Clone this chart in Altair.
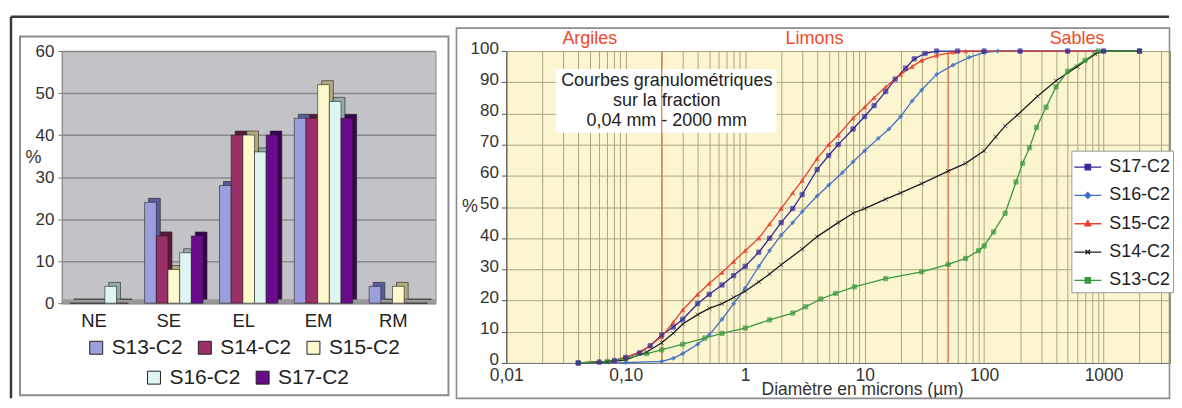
import altair as alt
import pandas as pd

FONT = "Liberation Sans"

# ---------------- Left panel: bar chart data ----------------
categories = ["NE", "SE", "EL", "EM", "RM"]
bar_series = ["S13-C2", "S14-C2", "S15-C2", "S16-C2", "S17-C2"]
s13_bars = [0, 24, 28, 44, 4]
s14_bars = [0, 16, 40, 44, 0]
s15_bars = [0, 8, 40, 52, 4]
s16_bars = [4, 12, 36, 48, 0]
s17_bars = [0, 16, 40, 44, 0]
bar_colors = ["#9c9fde", "#9b2f68", "#fdf9cd", "#dff5f3", "#6a0b8c"]
bar_side_colors = ["#5a5c96", "#5a1a3c", "#b0ab7c", "#93aba9", "#3a0550"]

# ---------------- Right panel: grain-size curves ----------------
s17_d = [0.04, 0.06, 0.08, 0.1, 0.13, 0.16, 0.2, 0.25, 0.3, 0.4, 0.5, 0.64, 0.8, 1.0, 1.3, 1.6, 2.0, 2.5, 3.0, 4.0,
         5.0, 6.0, 8.0, 10, 12, 15, 18, 22, 26, 32, 40, 60, 100, 200, 500, 1000, 2000]
s17_v = [0, 0.3, 0.8, 1.8, 3.2, 5.5, 9, 11.5, 14, 19, 22, 25, 28, 31, 35.5, 40, 45, 49.5, 54, 62,
         66.5, 70, 75, 79, 82.5, 87, 91, 94.5, 97.5, 99.2, 100, 100, 100, 100, 100, 100, 100]

s16_d = [0.04, 0.1, 0.2, 0.25, 0.3, 0.4, 0.5, 0.64, 0.8, 1.0, 1.3, 1.6, 2.0, 2.5, 3.0, 4.0, 5.0, 6.5, 8.0, 10,
         13, 16, 20, 25, 30, 40, 55, 75, 100, 130, 200, 500, 1000, 2000]
s16_v = [0, 0.1, 0.5, 1.5, 3, 6, 9, 14, 19, 24, 31, 36, 41, 45, 48.5, 53.5, 57, 61, 64.5, 68,
         72, 75, 79, 84, 87.5, 92.5, 95.5, 98, 99.5, 100, 100, 100, 100, 100]

s15_d = [0.04, 0.06, 0.08, 0.1, 0.13, 0.16, 0.2, 0.25, 0.3, 0.4, 0.5, 0.64, 0.8, 1.0, 1.3, 1.6, 2.0, 2.5, 3.0, 4.0,
         5.0, 6.0, 8.0, 10, 12, 15, 20, 25, 30, 40, 55, 70, 100, 200, 500, 1000, 2000]
s15_v = [0, 0.3, 0.8, 1.8, 3.5, 5.5, 8.5, 13, 17, 22, 25.5, 29, 32.5, 36, 40, 44.5, 49.5, 54.5, 58.5, 65.5,
         70, 73, 78.5, 82, 85, 88.5, 92.5, 95, 97, 98.6, 99.6, 100, 100, 100, 100, 100, 100]

s14_d = [0.04, 0.07, 0.1, 0.15, 0.2, 0.25, 0.3, 0.4, 0.5, 0.64, 0.8, 1.0, 1.3, 1.6, 2.0, 3.0, 4.0, 6.0, 8.0, 10,
         15, 20, 30, 50, 70, 100, 125, 150, 190, 280, 400, 600, 850, 1000, 2000]
s14_v = [0, 0.3, 1, 3.5, 6.5, 9.5, 12.5, 15.5, 17.5, 19, 21, 23, 26, 28.5, 31.5, 36.5, 40.5, 45, 48, 49.5,
         52.5, 54.5, 57.5, 61.5, 64, 68, 72.5, 76, 79.5, 85.5, 90.5, 95, 99, 100, 100]

s13_d = [0.04, 0.07, 0.1, 0.15, 0.2, 0.3, 0.46, 0.64, 1.0, 1.6, 2.5, 3.2, 4.3, 5.7, 8.2, 15, 30, 50, 70, 90,
         100, 120, 150, 185, 210, 240, 275, 330, 400, 500, 700, 900, 2000]
s13_v = [0, 0.5, 1.5, 3, 4.2, 6, 8, 9.5, 11.2, 13.8, 16, 18, 20.5, 22.3, 24.4, 27, 29.2, 31.6, 33.5, 36,
         37.5, 42, 48, 58, 64, 69, 75.5, 82, 88.5, 93.5, 97, 100, 100]

curve_order = ["S17-C2", "S16-C2", "S15-C2", "S14-C2", "S13-C2"]
curve_colors = ["#33299a", "#3f6fc6", "#e8402e", "#1e1e1e", "#3a9a3e"]
point_shapes = ["square", "diamond", "triangle-up", "M-1,-1L1,1M-1,1L1,-1", "square"]
legend_paths = [
    "M-1,0H1M-0.2,-0.2H0.2V0.2H-0.2Z",
    "M-1,0H1M0,-0.22L0.22,0L0,0.22L-0.22,0Z",
    "M-1,0H1M0,-0.24L0.22,0.16L-0.22,0.16Z",
    "M-1,0H1M-0.17,-0.17L0.17,0.17M-0.17,0.17L0.17,-0.17",
    "M-1,0H1M-0.2,-0.2H0.2V0.2H-0.2Z",
]

boundaries = [0.2, 50]
zone_names = ["Argiles", "Limons", "Sables"]
zone_pos = [0.05, 3.8, 600]
x_tick_labels = {0.01: "0,01", 0.1: "0,10", 1: "1", 10: "10", 100: "100", 1000: "1000"}

# ---------------- build tables ----------------
bars_rows = []
for s, vals in zip(bar_series, [s13_bars, s14_bars, s15_bars, s16_bars, s17_bars]):
    for c, v in zip(categories, vals):
        bars_rows.append({"cat": c, "series": s, "value": v})
bars_df = pd.DataFrame(bars_rows)

curve_rows = []
for s, ds, vs in [("S17-C2", s17_d, s17_v), ("S16-C2", s16_d, s16_v), ("S15-C2", s15_d, s15_v),
                  ("S14-C2", s14_d, s14_v), ("S13-C2", s13_d, s13_v)]:
    for d, v in zip(ds, vs):
        curve_rows.append({"series": s, "d": d, "v": v})
curve_df = pd.DataFrame(curve_rows)
draw_rank = {"S13-C2": 0, "S14-C2": 1, "S15-C2": 2, "S16-C2": 3, "S17-C2": 4}
curve_df["rank"] = curve_df["series"].map(draw_rank)

one = alt.Data(values=[{"k": 1}])

# ================= LEFT PANEL =================
W1, H1 = 375, 253
P_IN, P_OUT = 0.22, 0.107
step = W1 / (len(categories) - P_IN + 2 * P_OUT)
bw = step * (1 - P_IN)
DEPTH = 4

x_cat = alt.X(
    "cat:N", sort=categories,
    scale=alt.Scale(domain=categories, paddingInner=P_IN, paddingOuter=P_OUT),
    axis=alt.Axis(title=None, labelFontSize=18.5, labelColor="#222", labelPadding=8, ticks=False,
                  domain=False, labelAngle=0, labelOffset=-5, grid=False, labelFont=FONT),
)
x_off_front = alt.XOffset("series:N", sort=bar_series, scale=alt.Scale(domain=bar_series, range=[0, bw]))
x_off_side = alt.XOffset("series:N", sort=bar_series,
                         scale=alt.Scale(domain=bar_series, range=[DEPTH, bw + DEPTH]))
y_val = alt.Y(
    "value:Q", scale=alt.Scale(domain=[0, 60], nice=False),
    axis=alt.Axis(values=[0, 10, 20, 30, 40, 50, 60], title="%", titleAngle=0, titleX=-29, titleY=107,
                  titleAlign="center", titleBaseline="middle", titleFontSize=18, titleFontWeight="normal",
                  titleColor="#333", titleFont=FONT, labelFontSize=17, labelColor="#333", labelPadding=4,
                  tickSize=4, tickColor="#777", domainColor="#888", gridColor="#8a8a8a", gridWidth=1.5,
                  labelFont=FONT),
)

# page frame (kept inside the 1182x408 window so the page never scrolls)
frame_top = alt.Chart(one).mark_rule(color="#3a3a3a", strokeWidth=2.5).encode(
    x=alt.value(-51), x2=alt.value(1111), y=alt.value(-34.5))
frame_left = alt.Chart(one).mark_rule(color="#3a3a3a", strokeWidth=2.5).encode(
    x=alt.value(-51), y=alt.value(-34.5), y2=alt.value(348.5))
box_left = alt.Chart(one).mark_rect(fill="white", fillOpacity=0, stroke="#8c8c8c", strokeWidth=2).encode(
    x=alt.value(-42), x2=alt.value(388), y=alt.value(-14.5), y2=alt.value(345.5))
floor = alt.Chart(one).mark_rect(color="#9a9a9a").encode(
    x=alt.value(0), x2=alt.value(W1), y=alt.value(H1 - 4), y2=alt.value(H1))

side_bars = alt.Chart(bars_df).mark_bar(yOffset=-DEPTH, stroke="#222", strokeWidth=0.6).encode(
    x=x_cat, xOffset=x_off_side, y=y_val,
    color=alt.Color("series:N", scale=alt.Scale(domain=bar_series, range=bar_side_colors), legend=None),
)

leg_common = dict(orient="none", direction="horizontal", title=None, symbolType="square", symbolSize=169,
                  symbolStrokeColor="#222", symbolStrokeWidth=1, labelFontSize=21, labelColor="#222",
                  labelOffset=5, columnPadding=11, padding=0, labelFont=FONT)

front_a = alt.Chart(bars_df).transform_filter(
    alt.FieldOneOfPredicate(field="series", oneOf=bar_series[:3])
).mark_bar(stroke="#222", strokeWidth=0.6).encode(
    x=x_cat, xOffset=x_off_front, y=y_val,
    color=alt.Color("series:N", scale=alt.Scale(domain=bar_series[:3], range=bar_colors[:3]),
                    legend=alt.Legend(legendX=24, legendY=287, **leg_common)),
)
front_b = alt.Chart(bars_df).transform_filter(
    alt.FieldOneOfPredicate(field="series", oneOf=bar_series[3:])
).mark_bar(stroke="#222", strokeWidth=0.6).encode(
    x=x_cat, xOffset=x_off_front, y=y_val,
    color=alt.Color("series:N", scale=alt.Scale(domain=bar_series[3:], range=bar_colors[3:]),
                    legend=alt.Legend(legendX=82, legendY=317, **leg_common)),
)

left = alt.layer(frame_top, frame_left, box_left, floor, side_bars, front_a, front_b).resolve_scale(
    color="independent", xOffset="independent"
).properties(width=W1, height=H1, view=alt.ViewBackground(fill="#c3c3c7", stroke="#8a8a8a"))

# ================= RIGHT PANEL =================
W2, H2 = 666, 313
X_MAX = 3600

grid_vals = []
for k in range(-2, 4):
    for m in range(1, 10):
        val = round(m * 10.0 ** k, 6)
        if val <= X_MAX:
            grid_vals.append(val)

label_expr = "".join(
    [f"datum.value == {k} ? '{v}' : " for k, v in x_tick_labels.items()]) + "''"

GRID = "#aba483"

def make_x(field):
    return alt.X(
        f"{field}:Q",
        scale=alt.Scale(type="log", domain=[0.01, X_MAX], nice=False),
        axis=alt.Axis(values=grid_vals, labelExpr=label_expr, labelOverlap=False, labelFlush=False,
                      labelFontSize=17.5, labelColor="#333", labelPadding=4, ticks=False, domainColor="#777",
                      gridColor=GRID, gridWidth=1, title="Diamètre en microns (µm)", titleFontSize=17.5,
                      titleFontWeight="normal", titleColor="#333", titleX=357, titleY=36,
                      titleAlign="center", titleBaseline="bottom", labelFont=FONT, titleFont=FONT),
    )

y_pct = alt.Y(
    "v:Q", scale=alt.Scale(domain=[0, 100], nice=False),
    axis=alt.Axis(values=list(range(0, 101, 10)), title="%", titleAngle=0, titleX=-37, titleY=H2 / 2,
                  titleAlign="center", titleBaseline="middle", titleFontSize=18, titleFontWeight="normal",
                  titleColor="#333", titleFont=FONT, labelFontSize=17, labelColor="#333", labelPadding=3,
                  labelOffset=-3, tickSize=5, tickColor="#555", domainColor="#555", gridColor=GRID,
                  gridWidth=1, labelFont=FONT),
)

box_right = alt.Chart(one).mark_rect(fill="white", fillOpacity=0, stroke="#8c8c8c", strokeWidth=1.6).encode(
    x=alt.value(-50), x2=alt.value(665.5), y=alt.value(-23), y2=alt.value(348.5))

bound_df = pd.DataFrame({"b": boundaries})
vrules = alt.Chart(bound_df).mark_rule(color="#f07a4a", strokeWidth=1.3).encode(
    x=make_x("b"), y=alt.value(0), y2=alt.value(H2))

zone_df = pd.DataFrame({"z": zone_pos, "name": zone_names})
zones = alt.Chart(zone_df).mark_text(color="#f04a28", fontSize=18, baseline="middle", font=FONT).encode(
    x=make_x("z"), y=alt.value(-12), text="name:N")

note_bg = alt.Chart(one).mark_rect(color="white").encode(
    x=alt.value(50), x2=alt.value(271), y=alt.value(18), y2=alt.value(82))
note_txt = alt.Chart(one).mark_text(
    text="Courbes granulométriques\nsur la fraction\n0,04 mm - 2000 mm", lineBreak="\n", lineHeight=20,
    fontSize=18, color="#222", font=FONT, align="center", baseline="middle",
).encode(x=alt.value(161), y=alt.value(30))

color_scale = alt.Scale(domain=curve_order, range=curve_colors)

lines = alt.Chart(curve_df).mark_line(strokeWidth=1.3).encode(
    x=make_x("d"), y=y_pct,
    color=alt.Color("series:N", scale=color_scale, legend=None),
    detail="series:N",
    order=alt.Order("d:Q"),
)
points = alt.Chart(curve_df).mark_point(filled=True, size=18, strokeWidth=1).encode(
    x=make_x("d"), y=y_pct,
    color=alt.Color("series:N", scale=color_scale, legend=None),
    stroke=alt.Stroke("series:N", scale=color_scale, legend=None),
    shape=alt.Shape("series:N", scale=alt.Scale(domain=curve_order, range=point_shapes), legend=None),
    order=alt.Order("rank:Q"),
)

leg_r = alt.Legend(orient="none", legendX=567, legendY=100, title=None, labelFontSize=18, labelColor="#222",
                   labelFont=FONT, symbolSize=729, symbolStrokeWidth=1.3, symbolOpacity=1, fillColor="white",
                   strokeColor="#9a9a9a", padding=2, rowPadding=4.4, labelOffset=7)
legend_df = pd.DataFrame({"series": curve_order})
legend_layer = alt.Chart(legend_df).mark_point(opacity=0, filled=False).encode(
    color=alt.Color("series:N", scale=color_scale, legend=leg_r),
    fill=alt.Fill("series:N", scale=color_scale, legend=leg_r),
    shape=alt.Shape("series:N", scale=alt.Scale(domain=curve_order, range=legend_paths), legend=leg_r),
)

right = alt.layer(box_right, note_bg, vrules, lines, points, zones, note_txt, legend_layer).resolve_scale(
    color="independent", shape="independent", fill="independent", stroke="independent"
).properties(width=W2, height=H2, view=alt.ViewBackground(fill="#fcf6d0", stroke="#9b9577"))

chart = alt.hconcat(left, right, spacing=71, bounds="flush").properties(
    padding={"left": 1, "top": 5.5, "right": 0, "bottom": 0}
).configure(font=FONT)

chart.save("out.html", embed_options={"renderer": "svg", "actions": False})
